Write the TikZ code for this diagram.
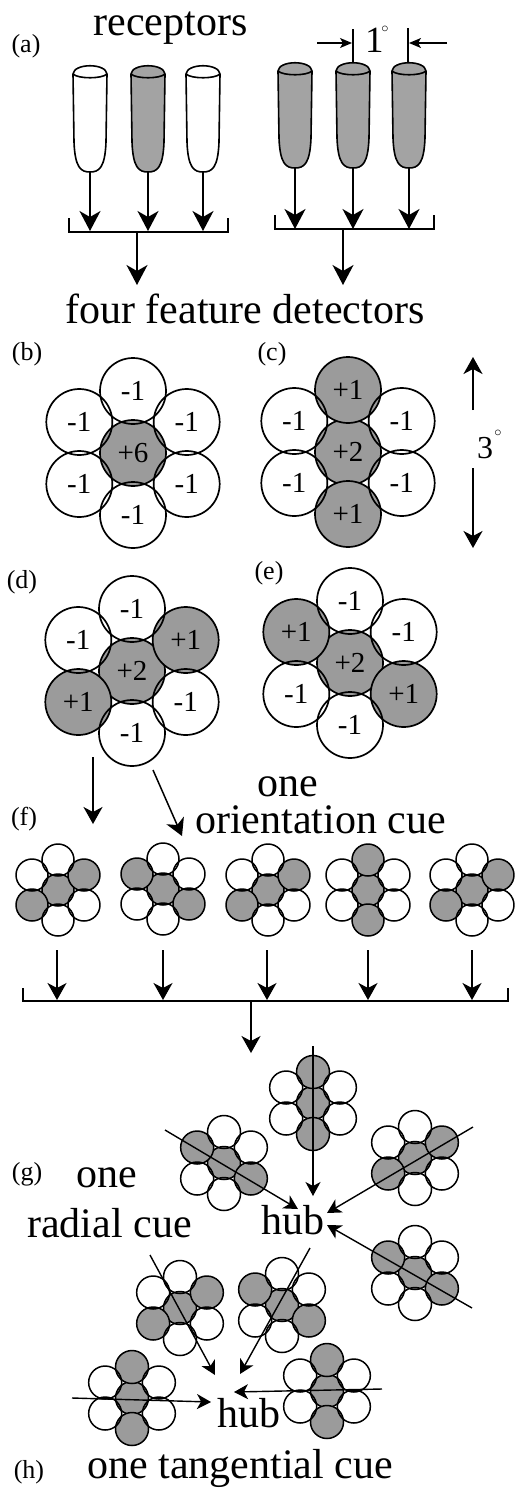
\documentclass[tikz,border=0pt]{standalone}
\usepackage{fontspec}
\setmainfont{Liberation Serif}
\usetikzlibrary{arrows.meta}
\definecolor{gfill}{RGB}{155,155,155}
\definecolor{tfill}{RGB}{163,163,163}
\tikzset{
  bigtxt/.style={font=\fontsize{42}{46}\selectfont, inner sep=0pt, anchor=base},
  lbltxt/.style={font=\fontsize{26}{30}\selectfont, inner sep=0pt, anchor=base},
  numtxt/.style={font=\fontsize{29}{32}\selectfont, inner sep=0pt},
  gcirc/.style={circle, draw, fill=gfill, inner sep=0pt},
  wcirc/.style={circle, draw, inner sep=0pt},
  tubeline/.style={line width=1.6pt, line join=round},
  bigarr/.style={line width=1.6pt, -{Stealth[length=20pt,width=21pt,inset=6pt]}},
  midarr/.style={line width=1.5pt, -{Stealth[length=17pt,width=19pt,inset=5pt]}},
  smallarr/.style={line width=1.4pt, -{Stealth[length=14pt,width=15pt,inset=4pt]}},
  dimarr/.style={line width=1.3pt, -{Stealth[length=12pt,width=10pt,inset=3pt]}},
  brk/.style={line width=1.7pt},
}
% cluster: #1 name, #2 x, #3 y, #4 radius, #5 spacing, #6 gray list, #7 white list
\newcommand\clus[7]{%
  \foreach \ii in {#6} {
    \pgfmathsetmacro\cdx{{0,0,0.866,0.866,0,-0.866,-0.866}[\ii]*#5}
    \pgfmathsetmacro\cdy{{0,-1,-0.5,0.5,1,0.5,-0.5}[\ii]*#5}
    \node[gcirc, minimum size={2*#4}] (#1-\ii) at ({#2+\cdx},{#3+\cdy}) {};
  }
  \foreach \ii in {#7} {
    \pgfmathsetmacro\cdx{{0,0,0.866,0.866,0,-0.866,-0.866}[\ii]*#5}
    \pgfmathsetmacro\cdy{{0,-1,-0.5,0.5,1,0.5,-0.5}[\ii]*#5}
    \node[wcirc, minimum size={2*#4}] (#1-\ii) at ({#2+\cdx},{#3+\cdy}) {};
  }
}
% tube: #1 cx, #2 rim y, #3 bottom y, #4 fill
\newcommand\tube[4]{%
  \filldraw[tubeline, fill=#4] ({#1-17},#2) .. controls ({#1-16},{#2-11}) and ({#1+16},{#2-11}) .. ({#1+17},#2)
    -- ({#1+16},{#3-30}) .. controls ({#1+15},{#3-4}) and ({#1+9},#3) .. (#1,#3)
    .. controls ({#1-9},#3) and ({#1-15},{#3-4}) .. ({#1-16},{#3-30}) -- cycle;
  \draw[tubeline] ({#1-17},#2) .. controls ({#1-12},{#2+5}) and ({#1+12},{#2+5}) .. ({#1+17},#2);
}
\begin{document}
\begin{tikzpicture}[x=1pt,y=-1pt]
\useasboundingbox (0,0) rectangle (515,1489);
\fill[white] (0,0) rectangle (515,1489);

% ---------- (a) ----------
\node[lbltxt] (la) at (26,52) {(a)};
\node[bigtxt] (rec) at (170.5,35) {receptors};
\tube{90}{74}{172}{white}
\tube{148}{74}{172}{tfill}
\tube{203}{74}{172}{white}
\tube{295}{71}{168}{tfill}
\tube{353}{71}{168}{tfill}
\tube{409}{71}{168}{tfill}
\foreach \n/\x in {1/90,2/148,3/203} {
  \coordinate (ta\n) at (\x,172);
  \coordinate (tb\n) at (\x,231);
  \draw[bigarr] (ta\n) -- (tb\n);
}
\foreach \n/\x in {4/295,5/353,6/409} {
  \coordinate (ta\n) at (\x,168);
  \coordinate (tb\n) at (\x,229);
  \draw[bigarr] (ta\n) -- (tb\n);
}
\coordinate (bl1) at (69,218); \coordinate (bl2) at (69,232);
\coordinate (bl3) at (228,232); \coordinate (bl4) at (228,218);
\draw[brk] (bl1) -- (bl2) -- (bl3) -- (bl4);
\coordinate (bls) at (137,232); \coordinate (ble) at (137,285);
\draw[bigarr] (bls) -- (ble);
\coordinate (br1) at (275,215); \coordinate (br2) at (275,229);
\coordinate (br3) at (434,229); \coordinate (br4) at (434,215);
\draw[brk] (br1) -- (br2) -- (br3) -- (br4);
\coordinate (brs) at (343,229); \coordinate (bre) at (343,285);
\draw[bigarr] (brs) -- (bre);
% 1 degree dimension
\coordinate (d1a) at (353,29); \coordinate (d1b) at (353,63);
\coordinate (d2a) at (408,28); \coordinate (d2b) at (408,63);
\draw[line width=1.5pt] (d1a) -- (d1b);
\draw[line width=1.5pt] (d2a) -- (d2b);
\coordinate (da1) at (317,43); \coordinate (da2) at (352,43);
\coordinate (db1) at (447,43); \coordinate (db2) at (409,43);
\draw[dimarr] (da1) -- (da2);
\draw[dimarr] (db1) -- (db2);
\node[font=\fontsize{37}{40}\selectfont, inner sep=0pt, anchor=base west] (one1) at (365,52) {1};
\node[font=\fontsize{15}{15}\selectfont, inner sep=0pt] (deg1) at (385,29) {$\circ$};

\node[bigtxt] (ffd) at (245,323) {four feature detectors};

% ---------- (b) (c) ----------
\node[lbltxt] (lb) at (27,360) {(b)};
\node[lbltxt] (lc) at (272,360) {(c)};
\begin{scope}[line width=1.7pt]
\clus{b}{133}{453}{33}{62}{0}{1,2,3,4,5,6}
\clus{c}{348}{452}{33}{62}{0,1,4}{2,3,5,6}
\end{scope}
\foreach \i/\t in {0/+6,1/-1,2/-1,3/-1,4/-1,5/-1,6/-1}
  \node[numtxt] (bt\i) at (b-\i) {\t};
\foreach \i/\t in {0/+2,1/+1,2/-1,3/-1,4/+1,5/-1,6/-1}
  \node[numtxt] (ct\i) at (c-\i) {\t};
% 3 degree
\coordinate (t3a) at (473,410); \coordinate (t3b) at (473,357);
\coordinate (t3c) at (473,468); \coordinate (t3d) at (473,548);
\draw[midarr] (t3a) -- (t3b);
\draw[midarr] (t3c) -- (t3d);
\node[font=\fontsize{32}{34}\selectfont, inner sep=0pt, anchor=base west] (three) at (477,458) {3};
\node[font=\fontsize{15}{15}\selectfont, inner sep=0pt] (deg3) at (498,433) {$\circ$};

% ---------- (d) (e) ----------
\node[lbltxt] (ld) at (22,588) {(d)};
\node[lbltxt] (le) at (269,579) {(e)};
\begin{scope}[line width=1.7pt]
\clus{d}{132}{671}{33}{62}{0,2,5}{1,3,4,6}
\clus{e}{350}{663}{33}{62}{0,3,6}{1,2,4,5}
\end{scope}
\foreach \i/\t in {0/+2,1/-1,2/+1,3/-1,4/-1,5/+1,6/-1}
  \node[numtxt] (dt\i) at (d-\i) {\t};
\foreach \i/\t in {0/+2,1/-1,2/-1,3/+1,4/-1,5/-1,6/+1}
  \node[numtxt] (et\i) at (e-\i) {\t};
\coordinate (dv1) at (93,757); \coordinate (dv2) at (93,824);
\draw[midarr] (dv1) -- (dv2);
\coordinate (dd1) at (153,770); \coordinate (dd2) at (182,836);
\draw[midarr] (dd1) -- (dd2);
\node[bigtxt] (oneo) at (288,796) {one};
\node[bigtxt] (orc) at (320.5,833) {orientation cue};

% ---------- (f) ----------
\node[lbltxt] (lf) at (24,825) {(f)};
\begin{scope}[line width=1.5pt]
\clus{f1}{58}{890}{16}{30}{0,2,5}{1,3,4,6}
\clus{f2}{163}{889}{16}{30}{0,3,6}{1,2,4,5}
\clus{f3}{268}{890}{16}{30}{0,2,5}{1,3,4,6}
\clus{f4}{368}{890}{16}{30}{0,1,4}{2,3,5,6}
\clus{f5}{472}{890}{16}{30}{0,2,5}{1,3,4,6}
\end{scope}
\foreach \n/\x in {1/57,2/163,3/267,4/368,5/472} {
  \coordinate (fa\n) at (\x,950);
  \coordinate (fb\n) at (\x,1000);
  \draw[midarr] (fa\n) -- (fb\n);
}
\coordinate (fk1) at (23,988); \coordinate (fk2) at (23,1001);
\coordinate (fk3) at (508,1001); \coordinate (fk4) at (508,988);
\draw[brk] (fk1) -- (fk2) -- (fk3) -- (fk4);
\coordinate (fs1) at (251,1001); \coordinate (fs2) at (251,1053);
\draw[midarr] (fs1) -- (fs2);

% ---------- (g) ----------
\node[lbltxt] (lg) at (27,1180) {(g)};
\node[bigtxt] (oneg) at (107,1187) {one};
\node[bigtxt] (radc) at (109.5,1237) {radial cue};
\begin{scope}[line width=1.5pt]
\clus{g1}{313}{1103}{16.5}{31}{0,1,4}{2,3,5,6}
\clus{g2}{224}{1163}{16.5}{31}{0,3,6}{1,2,4,5}
\clus{g3}{415}{1158}{16.5}{31}{0,2,5}{1,3,4,6}
\clus{g4}{415}{1273}{16.5}{31}{0,3,6}{1,2,4,5}
\end{scope}
\node[bigtxt] (hub1) at (293,1234) {hub};
\coordinate (ga1) at (313,1046); \coordinate (gb1) at (313,1196);
\coordinate (ga2) at (165,1130); \coordinate (gb2) at (298,1209);
\coordinate (ga3) at (473,1127); \coordinate (gb3) at (327,1213);
\coordinate (ga4) at (472,1308); \coordinate (gb4) at (327,1225);
\foreach \n in {1,2,3,4} \draw[smallarr] (ga\n) -- (gb\n);

% ---------- (h) ----------
\begin{scope}[line width=1.5pt]
\clus{h1}{180}{1308}{16.5}{31}{0,2,5}{1,3,4,6}
\clus{h2}{282}{1305}{16.5}{31}{0,3,6}{1,2,4,5}
\clus{h3}{132}{1398}{16.5}{31}{0,1,4}{2,3,5,6}
\clus{h4}{327}{1391}{16.5}{31}{0,1,4}{2,3,5,6}
\end{scope}
\node[bigtxt] (hub2) at (249,1427) {hub};
\coordinate (ha1) at (150,1255); \coordinate (hb1) at (215,1375);
\coordinate (ha2) at (310,1248); \coordinate (hb2) at (240,1374);
\coordinate (ha3) at (72,1398); \coordinate (hb3) at (211,1402);
\coordinate (ha4) at (382,1389); \coordinate (hb4) at (234,1392);
\foreach \n in {1,2,3,4} \draw[smallarr] (ha\n) -- (hb\n);
\node[lbltxt] (lh) at (29,1478) {(h)};
\node[bigtxt] (tanc) at (240,1478) {one tangential cue};
\end{tikzpicture}
\end{document}
